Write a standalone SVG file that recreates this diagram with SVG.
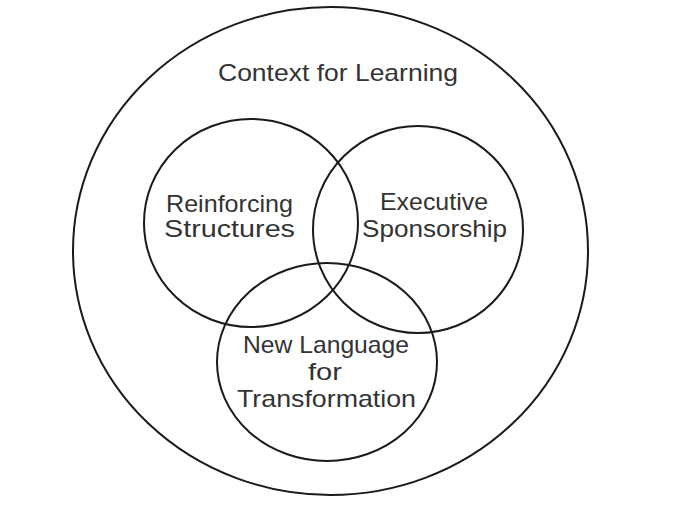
<svg xmlns="http://www.w3.org/2000/svg" width="691" height="510" viewBox="0 0 691 510">
<style>
.ring{fill:none;stroke:#1a1a1a;stroke-width:2}
.lbl{font-family:"Liberation Sans",Arial,sans-serif;font-size:24px;fill:#333;text-anchor:middle}
</style>
<rect width="691" height="510" fill="#fff"/>
<g id="context">
<ellipse class="ring" cx="330.5" cy="251" rx="257.5" ry="244"/>
<text class="lbl" x="338" y="81" textLength="240" lengthAdjust="spacingAndGlyphs">Context for Learning</text>
</g>
<g id="reinforcing">
<ellipse class="ring" cx="251" cy="223" rx="107" ry="104"/>
<text class="lbl" x="229.5" y="212" textLength="127" lengthAdjust="spacingAndGlyphs">Reinforcing</text>
<text class="lbl" x="229.5" y="237" textLength="131" lengthAdjust="spacingAndGlyphs">Structures</text>
</g>
<g id="executive">
<ellipse class="ring" cx="418" cy="229.5" rx="105" ry="103.5"/>
<text class="lbl" x="434" y="210" textLength="108" lengthAdjust="spacingAndGlyphs">Executive</text>
<text class="lbl" x="434.5" y="237" textLength="145" lengthAdjust="spacingAndGlyphs">Sponsorship</text>
</g>
<g id="language">
<ellipse class="ring" cx="327" cy="362" rx="110" ry="99"/>
<text class="lbl" x="326" y="353" textLength="166" lengthAdjust="spacingAndGlyphs">New Language</text>
<text class="lbl" x="325" y="380" textLength="34" lengthAdjust="spacingAndGlyphs">for</text>
<text class="lbl" x="326.5" y="407" textLength="179" lengthAdjust="spacingAndGlyphs">Transformation</text>
</g>
<g id="connectors"></g>
</svg>
